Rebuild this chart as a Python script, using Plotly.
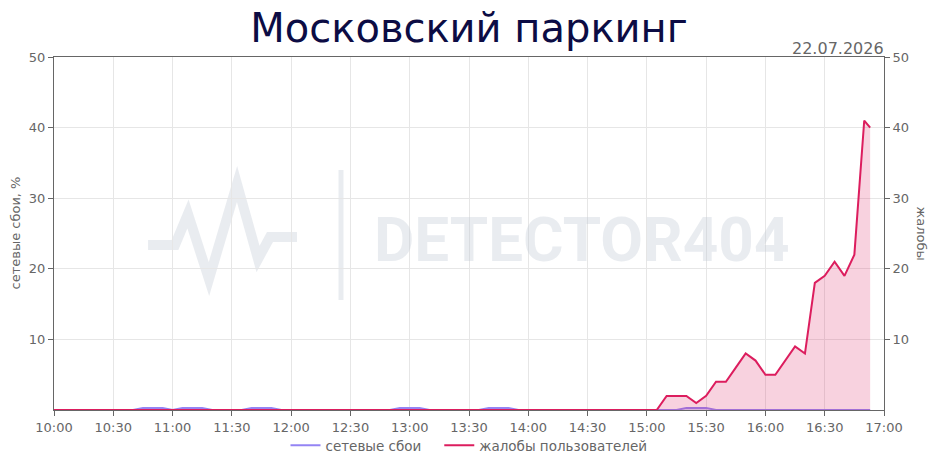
import pandas as pd
import plotly.graph_objects as go

# ---- data ----
day = "2026-07-22"
times = list(pd.date_range(f"{day} 10:00", f"{day} 16:50", freq="5min")) + [pd.Timestamp(f"{day} 16:53")]

complaints = [
    0, 0, 0, 0, 0, 0, 0, 0, 0, 0, 0, 0,   # 10:00-10:55
    0, 0, 0, 0, 0, 0, 0, 0, 0, 0, 0, 0,   # 11:00-11:55
    0, 0, 0, 0, 0, 0, 0, 0, 0, 0, 0, 0,   # 12:00-12:55
    0, 0, 0, 0, 0, 0, 0, 0, 0, 0, 0, 0,   # 13:00-13:55
    0, 0, 0, 0, 0, 0, 0, 0, 0, 0, 0, 0,   # 14:00-14:55
    0, 0, 2, 2, 2, 1, 2, 4, 4, 6, 8, 7,   # 15:00-15:55
    5, 5, 7, 9, 8, 18, 19, 21, 19, 22, 41,  # 16:00-16:50
    40,                                   # 16:53
]

failures = [
    0, 0, 0, 0, 0, 0, 0, 0, 0, 0.3, 0.3, 0.3,   # 10:00-10:55
    0, 0.3, 0.3, 0.3, 0, 0, 0, 0, 0.3, 0.3, 0.3, 0,   # 11:00-11:55
    0, 0, 0, 0, 0, 0, 0, 0, 0, 0, 0, 0.3,   # 12:00-12:55
    0.3, 0.3, 0, 0, 0, 0, 0, 0, 0.3, 0.3, 0.3, 0,   # 13:00-13:55
    0, 0, 0, 0, 0, 0, 0, 0, 0, 0, 0, 0,   # 14:00-14:55
    0, 0, 0, 0, 0.3, 0.3, 0.3, 0, 0, 0, 0, 0,   # 15:00-15:55
    0, 0, 0, 0, 0, 0, 0, 0, 0, 0, 0,      # 16:00-16:50
    0,                                    # 16:53
]

title_text = "Московский паркинг"
date_text = "22.07.2026"
left_title = "сетевые сбои, %"
right_title = "жалобы"
name_fail = "сетевые сбои"
name_compl = "жалобы пользователей"
y_ticks = [10, 20, 30, 40, 50]

FONT = "DejaVu Sans"
GRAY = "#666666"
GRID = "#e6e6e6"
RED = "#dc1d5e"
PURPLE = "#9484f4"

fig = go.Figure()
fig.add_trace(go.Scatter(
    x=times, y=failures, name=name_fail, mode="lines",
    line=dict(color=PURPLE, width=2), fill="tozeroy",
    fillcolor="rgba(148,132,244,0.35)", yaxis="y", showlegend=False,
))
fig.add_trace(go.Scatter(
    x=times, y=complaints, name=name_compl, mode="lines",
    line=dict(color=RED, width=2), fill="tozeroy",
    fillcolor="rgba(220,29,94,0.2)", yaxis="y2", showlegend=False,
))
# legend entries (lines only)
fig.add_trace(go.Scatter(x=[None], y=[None], name=name_fail + "\u00a0\u00a0\u00a0", mode="lines",
                         line=dict(color=PURPLE, width=2)))
fig.add_trace(go.Scatter(x=[None], y=[None], name=name_compl, mode="lines",
                         line=dict(color=RED, width=2)))

# watermark (decoration, paper coordinates)
W, H, L, B = 830.0, 353.0, 54.0, 410.0
def px(x, y):
    return (x - L) / W, (B - y) / H

pulse = [(148, 245), (175, 245), (188, 214), (209, 279), (237, 184), (258, 259), (270, 237), (297, 237)]
path = ""
for i, (a, b) in enumerate(pulse):
    u, v = px(a, b)
    path += ("M" if i == 0 else "L") + f"{u:.4f},{v:.4f} "
WM = "rgba(196,205,216,0.38)"
fig.add_shape(type="path", path=path, xref="paper", yref="paper",
              line=dict(color=WM, width=10), layer="below")
x0, y0 = px(341, 170)
x1, y1 = px(341, 300)
fig.add_shape(type="line", x0=x0, x1=x1, y0=y0, y1=y1, xref="paper", yref="paper",
              line=dict(color=WM, width=5), layer="below")
tx, ty = px(582, 240)
fig.add_annotation(text="<b>DETECTOR404</b>", x=tx, y=ty, xref="paper", yref="paper",
                   showarrow=False, font=dict(family="Roboto", size=62, color=WM),
                   xanchor="center", yanchor="middle")

axis_common = dict(
    showline=True, linecolor=GRAY, linewidth=1, ticks="outside", ticklen=5,
    tickcolor=GRAY, tickfont=dict(family=FONT, size=13, color=GRAY),
    zeroline=False,
)

fig.update_layout(
    width=938, height=468,
    margin=dict(l=54, r=54, t=57, b=58, autoexpand=False),
    paper_bgcolor="white", plot_bgcolor="white",
    font=dict(family=FONT, color=GRAY),
    title=dict(text=title_text, x=0.5, xanchor="center", y=0.94, yanchor="middle",
               font=dict(family=FONT, size=40, color="#0c0c44")),
    xaxis=dict(
        type="date", range=[f"{day} 10:00", f"{day} 17:00"],
        dtick=30 * 60 * 1000, tickformat="%H:%M", showgrid=True, gridcolor=GRID,
        mirror=True, **axis_common,
    ),
    yaxis=dict(range=[0, 50], tickvals=y_ticks, showgrid=True, gridcolor=GRID,
               **axis_common),
    yaxis2=dict(range=[0, 50], tickvals=y_ticks, overlaying="y", side="right",
                showgrid=False, **axis_common),
    legend=dict(orientation="h", x=0.5, xanchor="center", y=0.015, yref="container",
                yanchor="bottom", itemwidth=30, tracegroupgap=0,
                font=dict(family=FONT, size=13.5, color=GRAY), bgcolor="rgba(0,0,0,0)"),
    showlegend=True,
)

fig.add_annotation(text=date_text, x=1.0, y=1.0, xref="paper", yref="paper",
                   xanchor="right", yanchor="bottom", yshift=-3, xshift=2, showarrow=False,
                   font=dict(family=FONT, size=16, color=GRAY))
fig.add_annotation(text=left_title, x=0, y=0.5, xref="paper", yref="paper",
                   xshift=-39, textangle=-90, showarrow=False,
                   xanchor="center", yanchor="middle",
                   font=dict(family=FONT, size=13, color=GRAY))
fig.add_annotation(text=right_title, x=1, y=0.5, xref="paper", yref="paper",
                   xshift=37, textangle=90, showarrow=False,
                   xanchor="center", yanchor="middle",
                   font=dict(family=FONT, size=13, color=GRAY))

fig.write_html("out.html")
